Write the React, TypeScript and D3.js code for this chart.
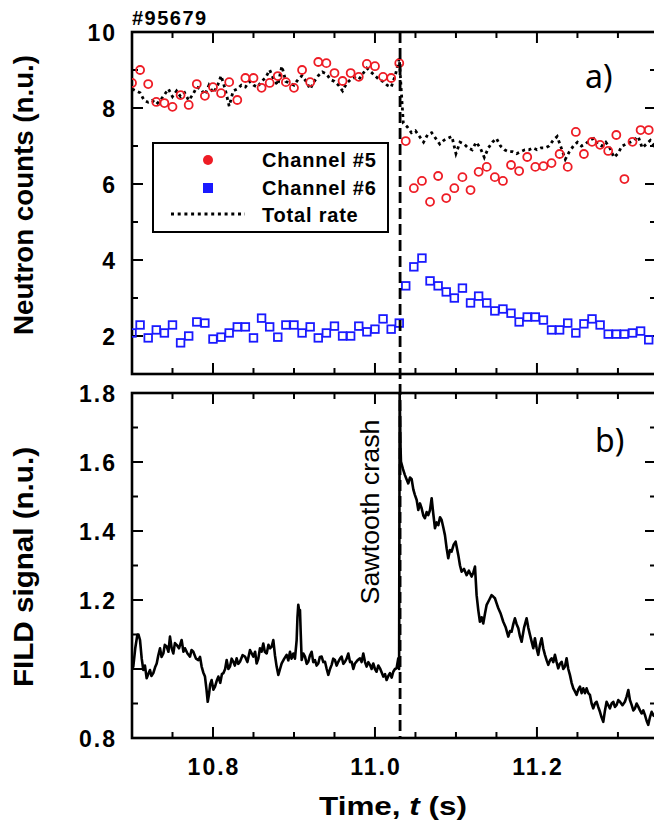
import { useEffect, useRef } from "react";
import * as d3 from "d3";

const shotLabel = "#95679";
const crashTime = 11.031;

// neutron channels, sampled every 10 ms
const channelTimePre = [10.70, 10.71, 10.72, 10.73, 10.74, 10.75, 10.76, 10.77, 10.78, 10.79, 10.80, 10.81, 10.82, 10.83, 10.84, 10.85, 10.86,
  10.87, 10.88, 10.89, 10.90, 10.91, 10.92, 10.93, 10.94, 10.95, 10.96, 10.97, 10.98, 10.99, 11.00, 11.01, 11.02, 11.03];
const channelTimePost = [11.038, 11.048, 11.058, 11.068, 11.078, 11.088, 11.098, 11.108, 11.118, 11.128, 11.138, 11.148, 11.158, 11.168,
  11.178, 11.188, 11.198, 11.208, 11.218, 11.228, 11.238, 11.248, 11.258, 11.268, 11.278, 11.288, 11.298, 11.308, 11.318, 11.328, 11.338];

const channel5Pre = [8.66, 9.0, 8.63, 8.16, 8.13, 8.03, 8.34, 8.08, 8.63, 8.32, 8.55, 8.39, 8.68, 8.21, 8.79, 8.79, 8.53, 8.66, 8.84, 8.68,
  8.53, 9.0, 8.68, 9.21, 9.18, 8.92, 8.71, 8.92, 8.82, 9.16, 9.1, 8.82, 8.79, 9.18];
const channel5Post = [7.13, 5.89, 6.08, 5.53, 6.21, 5.63, 5.89, 6.18, 5.84, 6.32, 6.45, 6.18, 6.08, 6.5, 6.34, 6.71, 6.45, 6.47, 6.55, 6.79,
  6.45, 7.37, 6.79, 7.11, 7.03, 6.87, 7.29, 6.13, 7.11, 7.42, 7.42];

const channel6Pre = [2.08, 2.29, 1.95, 2.16, 2.08, 2.29, 1.82, 2.0, 2.37, 2.34, 1.92, 1.97, 2.08, 2.24, 2.24, 1.95, 2.47, 2.24, 1.97, 2.29,
  2.29, 2.08, 2.24, 1.95, 2.08, 2.26, 2.0, 2.0, 2.26, 2.11, 2.18, 2.45, 2.18, 2.34];
const channel6Post = [3.32, 3.82, 4.05, 3.45, 3.32, 3.16, 3.0, 3.26, 2.87, 3.05, 2.87, 2.66, 2.71, 2.6, 2.37, 2.5, 2.5, 2.42, 2.16, 2.16,
  2.34, 2.08, 2.32, 2.45, 2.29, 2.05, 2.05, 2.05, 2.08, 2.13, 1.9];

// total rate, sampled every 5 ms
const totalTimePre = [10.700, 10.705, 10.710, 10.715, 10.720, 10.725, 10.730, 10.735, 10.740, 10.745, 10.750, 10.755, 10.760, 10.765,
  10.770, 10.775, 10.780, 10.785, 10.790, 10.795, 10.800, 10.805, 10.810, 10.815, 10.820, 10.825, 10.830, 10.835, 10.840, 10.845, 10.850,
  10.855, 10.860, 10.865, 10.870, 10.875, 10.880, 10.885, 10.890, 10.895, 10.900, 10.905, 10.910, 10.915, 10.920, 10.925, 10.930, 10.935,
  10.940, 10.945, 10.950, 10.955, 10.960, 10.965, 10.970, 10.975, 10.980, 10.985, 10.990, 10.995, 11.000, 11.005, 11.010, 11.015, 11.020,
  11.025, 11.030];
const totalPre = [8.5, 8.45, 8.4, 8.2, 8.15, 8.2, 8.1, 8.2, 8.35, 8.5, 8.3, 8.45, 8.3, 8.4, 8.2, 8.35, 8.55, 8.5, 8.35, 8.6, 8.4, 8.55, 8.85,
  8.5, 8.05, 8.45, 8.5, 8.6, 8.55, 8.7, 8.6, 8.55, 8.7, 8.8, 9.0, 8.75, 8.6, 9.1, 8.7, 8.65, 8.6, 8.75, 8.85, 8.7, 8.5, 8.7, 8.85, 8.95, 8.9,
  8.75, 8.7, 8.6, 8.45, 8.65, 8.75, 8.8, 8.75, 8.9, 9.05, 8.95, 8.85, 8.75, 8.7, 8.6, 8.55, 8.85, 9.3];
const totalTimePost = [11.035, 11.040, 11.045, 11.050, 11.055, 11.060, 11.065, 11.070, 11.075, 11.080, 11.085, 11.090, 11.095, 11.100,
  11.105, 11.110, 11.115, 11.120, 11.125, 11.130, 11.135, 11.140, 11.145, 11.150, 11.155, 11.160, 11.165, 11.170, 11.175, 11.180, 11.185,
  11.190, 11.195, 11.200, 11.205, 11.210, 11.215, 11.220, 11.225, 11.230, 11.235, 11.240, 11.245, 11.250, 11.255, 11.260, 11.265, 11.270,
  11.275, 11.280, 11.285, 11.290, 11.295, 11.300, 11.305, 11.310, 11.315, 11.320, 11.325, 11.330, 11.335, 11.340, 11.345, 11.350];
const totalPost = [7.6, 7.5, 7.35, 7.4, 7.25, 7.1, 7.3, 7.35, 7.2, 7.05, 7.15, 7.2, 7.25, 6.8, 7.1, 7.05, 6.95, 6.9, 7.1, 6.95, 6.7, 6.95,
  7.1, 7.2, 7.0, 6.9, 6.85, 6.85, 6.8, 6.85, 6.9, 6.9, 6.95, 6.9, 6.95, 6.95, 7.0, 7.15, 7.25, 6.95, 6.65, 6.85, 7.0, 7.1, 7.0, 7.05, 7.15,
  7.2, 7.05, 7.0, 7.1, 6.95, 6.7, 6.8, 7.0, 7.05, 7.1, 7.15, 7.25, 6.95, 7.05, 7.15, 7.0, 7.1];

// FILD signal
const fildTime = [
  10.7000, 10.7016, 10.7040, 10.7066, 10.7080, 10.7099, 10.7120, 10.7140, 10.7160, 10.7181, 10.7200, 10.7222, 10.7240, 10.7263, 10.7285,
  10.7305, 10.7325, 10.7346, 10.7365, 10.7387, 10.7405, 10.7428, 10.7450, 10.7469, 10.7490, 10.7510, 10.7530, 10.7551, 10.7580, 10.7613,
  10.7635, 10.7654, 10.7685, 10.7716, 10.7735, 10.7757, 10.7790, 10.7819, 10.7840, 10.7860, 10.7880, 10.7901, 10.7920, 10.7935, 10.7950,
  10.7965, 10.7983, 10.8005, 10.8025, 10.8045, 10.8066, 10.8090, 10.8110, 10.8128, 10.8150, 10.8169, 10.8190, 10.8210, 10.8230, 10.8251,
  10.8270, 10.8292, 10.8312, 10.8333, 10.8365, 10.8395, 10.8425, 10.8457, 10.8478, 10.8498, 10.8520, 10.8539, 10.8560, 10.8580, 10.8600,
  10.8621, 10.8640, 10.8663, 10.8685, 10.8704, 10.8725, 10.8745, 10.8765, 10.8786, 10.8807, 10.8828, 10.8848, 10.8880, 10.8909, 10.8930,
  10.8951, 10.8970, 10.8992, 10.9012, 10.9033, 10.9043, 10.9053, 10.9064, 10.9074, 10.9084, 10.9095, 10.9115, 10.9136, 10.9157, 10.9177,
  10.9198, 10.9218, 10.9238, 10.9259, 10.9280, 10.9300, 10.9320, 10.9342, 10.9362, 10.9383, 10.9404, 10.9424, 10.9445, 10.9465, 10.9485,
  10.9506, 10.9527, 10.9547, 10.9568, 10.9588, 10.9609, 10.9630, 10.9650, 10.9671, 10.9692, 10.9712, 10.9733, 10.9753, 10.9784, 10.9815,
  10.9835, 10.9856, 10.9877, 10.9897, 10.9918, 10.9938, 10.9959, 10.9979, 11.0000, 11.0020, 11.0041, 11.0062, 11.0083, 11.0103, 11.0124,
  11.0144, 11.0165, 11.0185, 11.0206, 11.0226, 11.0247, 11.0267, 11.0288, 11.0298, 11.0305, 11.0316, 11.0321, 11.0345, 11.0370, 11.0390,
  11.0411, 11.0432, 11.0453, 11.0474, 11.0494, 11.0515, 11.0535, 11.0556, 11.0576, 11.0597, 11.0617, 11.0638, 11.0658, 11.0679, 11.0700,
  11.0720, 11.0741, 11.0762, 11.0782, 11.0803, 11.0823, 11.0844, 11.0864, 11.0885, 11.0905, 11.0926, 11.0946, 11.0971, 11.0996, 11.1012,
  11.1029, 11.1050, 11.1070, 11.1100, 11.1132, 11.1160, 11.1193, 11.1215, 11.1235, 11.1255, 11.1276, 11.1296, 11.1317, 11.1337, 11.1358,
  11.1379, 11.1410, 11.1440, 11.1460, 11.1481, 11.1502, 11.1523, 11.1553, 11.1584, 11.1615, 11.1646, 11.1667, 11.1687, 11.1708, 11.1728,
  11.1749, 11.1770, 11.1790, 11.1811, 11.1841, 11.1872, 11.1893, 11.1914, 11.1934, 11.1955, 11.1975, 11.1996, 11.2016, 11.2037, 11.2058,
  11.2078, 11.2099, 11.2120, 11.2140, 11.2161, 11.2181, 11.2202, 11.2222, 11.2243, 11.2263, 11.2284, 11.2305, 11.2325, 11.2346, 11.2366,
  11.2387, 11.2407, 11.2428, 11.2449, 11.2469, 11.2490, 11.2510, 11.2531, 11.2552, 11.2572, 11.2593, 11.2613, 11.2634, 11.2654, 11.2675,
  11.2695, 11.2716, 11.2737, 11.2757, 11.2778, 11.2798, 11.2819, 11.2840, 11.2860, 11.2881, 11.2901, 11.2922, 11.2942, 11.2963, 11.2984,
  11.3004, 11.3025, 11.3056, 11.3086, 11.3107, 11.3128, 11.3148, 11.3169, 11.3190, 11.3210, 11.3231, 11.3251, 11.3272, 11.3292, 11.3313,
  11.3333, 11.3354, 11.3374, 11.3395, 11.3416, 11.3440, 11.3477];
const fildSignal = [
  1.00, 1.007, 1.06, 1.099, 1.10, 1.084, 1.03, 0.997, 1.01, 0.973, 0.985, 0.997, 0.98, 0.988, 1.005,
  1.016, 1.04, 1.06, 1.035, 1.045, 1.07, 1.065, 1.05, 1.094, 1.06, 1.045, 1.075, 1.07, 1.06, 1.084,
  1.05, 1.06, 1.045, 1.036, 1.055, 1.05, 1.03, 1.026, 1.035, 1.007, 0.99, 0.978, 0.94, 0.905, 0.925,
  0.955, 0.968, 0.94, 0.949, 0.965, 0.978, 0.96, 0.985, 0.988, 1.0, 1.026, 1.0, 1.007, 1.03, 1.021,
  1.01, 1.031, 1.015, 1.021, 1.04, 1.036, 1.02, 1.055, 1.045, 1.036, 1.05, 1.016, 1.03, 1.06, 1.05,
  1.074, 1.05, 1.045, 1.07, 1.06, 1.065, 1.084, 1.04, 1.007, 0.983, 1.0, 1.016, 1.03, 1.041, 1.025,
  1.05, 1.03, 1.045, 1.03, 1.084, 1.15, 1.186, 1.17, 1.171, 1.10, 1.026, 1.045, 1.036, 1.015, 1.021,
  1.04, 1.05, 1.02, 1.026, 1.01, 1.016, 1.035, 1.036, 1.02, 1.021, 1.0, 0.983, 1.0, 1.012, 1.03,
  1.026, 1.01, 1.021, 1.03, 1.036, 1.015, 1.021, 1.03, 1.045, 1.02, 1.021, 1.0, 1.016, 1.025, 1.031,
  1.02, 1.045, 1.02, 1.007, 1.02, 1.012, 1.0, 1.016, 1.0, 0.992, 1.01, 1.002, 0.99, 0.978, 0.985,
  0.968, 0.98, 0.988, 0.975, 0.992, 1.0, 1.002, 1.031, 1.0, 1.80, 1.64, 1.601, 1.58, 1.562, 1.55,
  1.538, 1.555, 1.55, 1.52, 1.504, 1.49, 1.461, 1.48, 1.466, 1.445, 1.437, 1.455, 1.446, 1.46, 1.495,
  1.45, 1.408, 1.425, 1.417, 1.44, 1.432, 1.41, 1.388, 1.35, 1.321, 1.345, 1.34, 1.36, 1.369, 1.35,
  1.33, 1.30, 1.282, 1.29, 1.272, 1.285, 1.268, 1.28, 1.297, 1.214, 1.17, 1.137, 1.15, 1.132, 1.16,
  1.186, 1.20, 1.214, 1.21, 1.205, 1.19, 1.176, 1.16, 1.137, 1.12, 1.094, 1.11, 1.108, 1.13, 1.147,
  1.13, 1.118, 1.095, 1.079, 1.12, 1.147, 1.12, 1.099, 1.08, 1.06, 1.089, 1.06, 1.041, 1.07, 1.089,
  1.06, 1.041, 1.025, 1.012, 1.025, 1.031, 1.02, 1.041, 1.02, 1.002, 1.015, 1.021, 1.0, 1.007, 1.031,
  1.0, 0.983, 0.96, 0.944, 0.935, 0.925, 0.94, 0.949, 0.93, 0.944, 0.93, 0.944, 0.93, 0.925, 0.9,
  0.886, 0.9, 0.905, 0.89, 0.876, 0.86, 0.847, 0.88, 0.905, 0.895, 0.886, 0.9, 0.905, 0.89, 0.896,
  0.91, 0.905, 0.895, 0.905, 0.92, 0.939, 0.91, 0.896, 0.88, 0.886, 0.9, 0.891, 0.88, 0.871, 0.88,
  0.867, 0.85, 0.838, 0.86, 0.876, 0.865, 0.86];

const xMajor = [10.8, 11.0, 11.2];
const xMinor = [10.75, 10.85, 10.9, 10.95, 11.05, 11.1, 11.15, 11.25, 11.3];
const neutronMajor = [2, 4, 6, 8, 10];
const neutronMinor = [3, 5, 7, 9];
const fildMajor = [0.8, 1.0, 1.2, 1.4, 1.6, 1.8];
const fildMinor = [0.9, 1.1, 1.3, 1.5, 1.7];

const legendItems = ["Channel #5", "Channel #6", "Total rate"];

const RED = "#ee1c25";
const BLUE = "#1a1aff";
const BOLD = "'Liberation Sans', Arial, Helvetica, sans-serif";

export default function App() {
  const ref = useRef<SVGSVGElement>(null);

  useEffect(() => {
    const svg = d3.select(ref.current);
    svg.selectAll("*").remove();

    const left = 132, right = 656;
    const x = d3.scaleLinear().domain([10.7, 11.347]).range([left, right]);
    const yTop = d3.scaleLinear().domain([1, 10]).range([374, 32]);
    const yBot = d3.scaleLinear().domain([0.8, 1.8]).range([738, 393]);

    const defs = svg.append("defs");
    defs.append("clipPath").attr("id", "clipTop").append("rect")
      .attr("x", left).attr("y", 32).attr("width", right - left).attr("height", 342);
    defs.append("clipPath").attr("id", "clipBot").append("rect")
      .attr("x", left).attr("y", 393).attr("width", right - left).attr("height", 345);

    // frame + inward ticks on all four sides
    const frame = (y: d3.ScaleLinear<number, number>, major: number[], minor: number[]) => {
      const [y0, y1] = [y.range()[1], y.range()[0]];
      const g = svg.append("g").attr("stroke", "black").attr("fill", "none");
      g.append("rect").attr("x", left).attr("y", y0).attr("width", right - left).attr("height", y1 - y0)
        .attr("stroke-width", 2.6);
      const tk = g.append("g").attr("stroke-width", 2);
      const xt = (v: number, len: number) => {
        tk.append("line").attr("x1", x(v)).attr("x2", x(v)).attr("y1", y0).attr("y2", y0 + len);
        tk.append("line").attr("x1", x(v)).attr("x2", x(v)).attr("y1", y1).attr("y2", y1 - len);
      };
      const yt = (v: number, len: number) => {
        tk.append("line").attr("y1", y(v)).attr("y2", y(v)).attr("x1", left).attr("x2", left + len);
        tk.append("line").attr("y1", y(v)).attr("y2", y(v)).attr("x1", right).attr("x2", right - len);
      };
      xMajor.forEach(v => xt(v, 11));
      xMinor.forEach(v => xt(v, 6));
      major.forEach(v => yt(v, 11));
      minor.forEach(v => yt(v, 6));
      svg.append("g").selectAll("text").data(major).enter().append("text")
        .attr("x", 117).attr("y", d => y(d) + 8.5)
        .attr("text-anchor", "end")
        .style("font-family", BOLD).style("font-weight", "bold").style("font-size", "23px")
        .style("letter-spacing", "2px")
        .text(d => (y === yTop ? d3.format("d")(d) : d3.format(".1f")(d)));
    };

    frame(yTop, neutronMajor, neutronMinor);
    frame(yBot, fildMajor, fildMinor);

    // x tick labels under the lower panel
    svg.append("g").selectAll("text").data(xMajor).enter().append("text")
      .attr("x", d => x(d) + 1).attr("y", 775)
      .attr("text-anchor", "middle")
      .style("font-family", BOLD).style("font-weight", "bold").style("font-size", "23px")
      .style("letter-spacing", "2px")
      .text(d => d3.format(".1f")(d));

    // panel a) data
    const top = svg.append("g").attr("clip-path", "url(#clipTop)");
    const totalT = totalTimePre.concat(totalTimePost);
    const totalV = totalPre.concat(totalPost);
    const line = d3.line<number>().x((_, i) => x(totalT[i])).y(d => yTop(d));
    top.append("path").datum(totalV).attr("d", line)
      .attr("fill", "none").attr("stroke", "black").attr("stroke-width", 2.8)
      .attr("stroke-dasharray", "3,3.5");

    const chT = channelTimePre.concat(channelTimePost);
    const ch5 = channel5Pre.concat(channel5Post);
    const ch6 = channel6Pre.concat(channel6Post);
    top.append("g").selectAll("circle").data(ch5).enter().append("circle")
      .attr("cx", (_, i) => x(chT[i])).attr("cy", d => yTop(d)).attr("r", 4)
      .attr("fill", "none").attr("stroke", RED).attr("stroke-width", 1.8);
    top.append("g").selectAll("rect").data(ch6).enter().append("rect")
      .attr("x", (_, i) => x(chT[i]) - 3.8).attr("y", d => yTop(d) - 3.8)
      .attr("width", 7.6).attr("height", 7.6)
      .attr("fill", "none").attr("stroke", BLUE).attr("stroke-width", 1.8);

    // panel b) data
    const bot = svg.append("g").attr("clip-path", "url(#clipBot)");
    const fildLine = d3.line<number>().x((_, i) => x(fildTime[i])).y(d => yBot(d));
    bot.append("path").datum(fildSignal).attr("d", fildLine)
      .attr("fill", "none").attr("stroke", "black").attr("stroke-width", 2.6)
      .attr("stroke-linejoin", "round");

    // sawtooth crash marker
    svg.append("line")
      .attr("x1", x(crashTime)).attr("x2", x(crashTime))
      .attr("y1", yTop(10)).attr("y2", yBot(0.8))
      .attr("stroke", "black").attr("stroke-width", 2.8).attr("stroke-dasharray", "11,5");

    // legend
    const lg = svg.append("g");
    lg.append("rect").attr("x", 153).attr("y", 143).attr("width", 235).attr("height", 89)
      .attr("fill", "white").attr("stroke", "black").attr("stroke-width", 2);
    lg.append("circle").attr("cx", 208).attr("cy", 160).attr("r", 5).attr("fill", RED);
    lg.append("rect").attr("x", 203).attr("y", 183).attr("width", 10).attr("height", 10).attr("fill", BLUE);
    lg.append("line").attr("x1", 171).attr("x2", 245).attr("y1", 214).attr("y2", 214)
      .attr("stroke", "black").attr("stroke-width", 3).attr("stroke-dasharray", "3,3.7");
    lg.selectAll("text").data(legendItems).enter().append("text")
      .attr("x", 262).attr("y", (_, i) => 167 + i * 27.5)
      .style("font-family", BOLD).style("font-weight", "bold").style("font-size", "20px")
      .style("letter-spacing", "0.8px")
      .text(d => d);

    // annotations
    svg.append("text").attr("x", 132).attr("y", 25)
      .style("font-family", BOLD).style("font-weight", "bold").style("font-size", "20px")
      .style("letter-spacing", "1.5px").text(shotLabel);
    svg.append("text").attr("x", 585).attr("y", 88)
      .style("font-family", "'Noto Sans', sans-serif").style("font-size", "32px").text("a)");
    svg.append("text").attr("x", 595).attr("y", 452)
      .style("font-family", "'Noto Sans', sans-serif").style("font-size", "32px").text("b)");
    svg.append("text").attr("transform", "translate(379,512) rotate(-90)")
      .attr("text-anchor", "middle").attr("textLength", 185).attr("lengthAdjust", "spacingAndGlyphs")
      .style("font-family", BOLD).style("font-size", "25px").text("Sawtooth crash");

    // axis titles
    svg.append("text").attr("transform", "translate(33,195) rotate(-90)")
      .attr("text-anchor", "middle").attr("textLength", 280).attr("lengthAdjust", "spacingAndGlyphs")
      .style("font-family", BOLD).style("font-weight", "bold").style("font-size", "28px")
      .text("Neutron counts (n.u.)");
    svg.append("text").attr("transform", "translate(33,567) rotate(-90)")
      .attr("text-anchor", "middle").attr("textLength", 240).attr("lengthAdjust", "spacingAndGlyphs")
      .style("font-family", BOLD).style("font-weight", "bold").style("font-size", "28px")
      .text("FILD signal (n.u.)");
    const tl = svg.append("text").attr("x", 393).attr("y", 815)
      .attr("text-anchor", "middle").attr("textLength", 148).attr("lengthAdjust", "spacingAndGlyphs")
      .style("font-family", BOLD).style("font-weight", "bold").style("font-size", "25px");
    tl.append("tspan").text("Time, ");
    tl.append("tspan").style("font-style", "italic").text("t");
    tl.append("tspan").text(" (s)");
  }, []);

  return (
    <svg ref={ref} width={654} height={829}
      style={{ position: "absolute", left: 0, top: 0, background: "white", overflow: "hidden" }} />
  );
}
